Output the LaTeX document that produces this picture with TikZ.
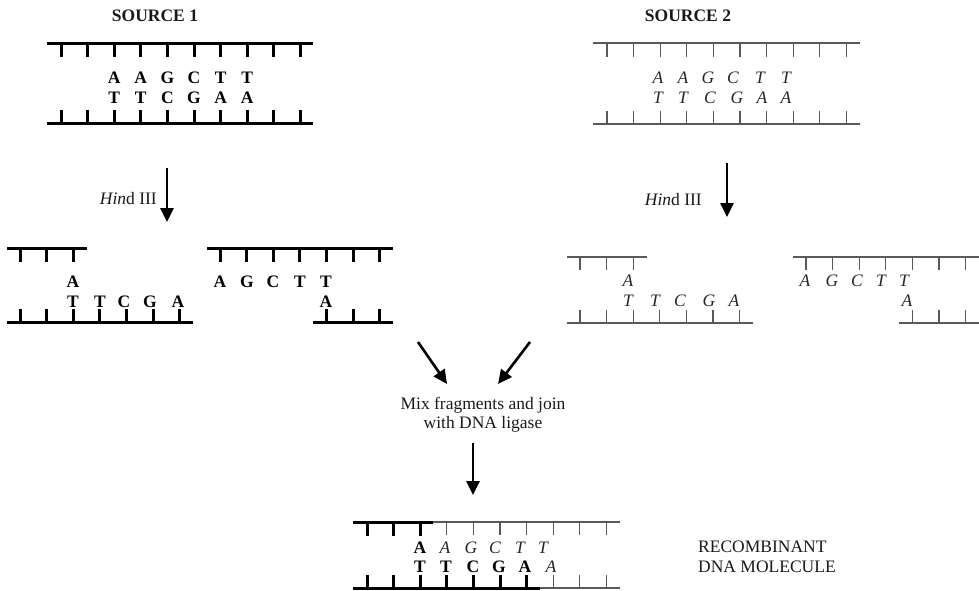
\documentclass[tikz,border=0pt]{standalone}
\usepackage{fontspec}
\setmainfont{Liberation Serif}
\usetikzlibrary{arrows.meta}

\begin{document}
\begin{tikzpicture}[x=1pt, y=-1pt, >={Triangle[length=14pt,width=13pt]},
    boldstrand/.style={line width=3pt, black},
    thinstrand/.style={line width=1.1pt, black!65},
    boldbase/.style={anchor=base, inner sep=0pt, font=\fontsize{17.5}{20}\selectfont\bfseries},
    itbase/.style={anchor=base, inner sep=0pt, text=black!85, font=\fontsize{17.5}{20}\selectfont\itshape},
    plaintext/.style={anchor=base, inner sep=0pt, text=black!90, font=\fontsize{17.5}{20}\selectfont},
    cutarrow/.style={->, line width=2.6pt, black}]
    \useasboundingbox (0,0) rectangle (979,590);

    % source 1
    \node[plaintext, font=\fontsize{17.5}{20}\selectfont\bfseries] (src1) at (155,21) {SOURCE 1};
    \draw[boldstrand] (47,43) -- (313,43);
    \draw[boldstrand] (47,123) -- (313,123);
    \foreach \i in {1,...,10} {
        \draw[boldstrand] (34.4+26.6*\i,43) -- ++(0,14);
        \draw[boldstrand] (34.4+26.6*\i,123) -- ++(0,-13);
    }
    \foreach \b [count=\i from 3] in {A,A,G,C,T,T}
        \node[boldbase] (s1a\i) at (34.4+26.6*\i,83) {\b};
    \foreach \b [count=\i from 3] in {T,T,C,G,A,A}
        \node[boldbase] (s1b\i) at (34.4+26.6*\i,103) {\b};

    % source 2
    \node[plaintext, font=\fontsize{17.5}{20}\selectfont\bfseries] (src2) at (688,21) {SOURCE 2};
    \draw[thinstrand] (593,43) -- (860,43);
    \draw[thinstrand] (593,124) -- (860,124);
    \foreach \i in {1,...,10} {
        \draw[thinstrand] (580.4+26.6*\i,43) -- ++(0,14);
        \draw[thinstrand] (580.4+26.6*\i,124) -- ++(0,-13);
    }
    \foreach \x/\b [count=\i] in {658/A,683/A,708/G,733/C,760/T,786/T}
        \node[itbase] (s2a\i) at (\x,83) {\b};
    \foreach \x/\b [count=\i] in {658/T,683/T,710/C,737/G,762/A,786/A}
        \node[itbase] (s2b\i) at (\x,103) {\b};

    % Hind III cuts
    \coordinate (h1top) at (167,168);
    \coordinate (h1tip) at (167,222);
    \draw[cutarrow] (h1top) -- (h1tip);
    \node[plaintext, anchor=base east] (enz1) at (157,204) {\textit{Hin}d III};
    \coordinate (h2top) at (727,163);
    \coordinate (h2tip) at (727,217);
    \draw[cutarrow] (h2top) -- (h2tip);
    \node[plaintext, anchor=base east] (enz2) at (702,205) {\textit{Hin}d III};

    % fragments of source 1
    \draw[boldstrand] (7,248) -- (87,248);
    \draw[boldstrand] (7,322) -- (193,322);
    \foreach \i in {1,...,3}
        \draw[boldstrand] (-6.6+26.6*\i,248) -- ++(0,14);
    \foreach \i in {1,...,7}
        \draw[boldstrand] (-6.6+26.6*\i,322) -- ++(0,-13);
    \node[boldbase] (f1a) at (73,287) {A};
    \foreach \x/\b [count=\i] in {73/T,100/T,124/C,150/G,178/A}
        \node[boldbase] (f1b\i) at (\x,307) {\b};
    \draw[boldstrand] (207,248) -- (393,248);
    \draw[boldstrand] (313,322) -- (393,322);
    \foreach \i in {1,...,7}
        \draw[boldstrand] (193.4+26.6*\i,248) -- ++(0,14);
    \foreach \i in {5,...,7}
        \draw[boldstrand] (193.4+26.6*\i,322) -- ++(0,-13);
    \foreach \x/\b [count=\i] in {220/A,247/G,273/C,300/T,326/T}
        \node[boldbase] (f2a\i) at (\x,287) {\b};
    \node[boldbase] (f2b) at (326,307) {A};

    % fragments of source 2
    \draw[thinstrand] (567,257) -- (647,257);
    \draw[thinstrand] (567,323) -- (753,323);
    \foreach \i in {1,...,3}
        \draw[thinstrand] (553.4+26.6*\i,257) -- ++(0,13);
    \foreach \i in {1,...,7}
        \draw[thinstrand] (553.4+26.6*\i,323) -- ++(0,-13);
    \node[itbase] (f3a) at (628,286) {A};
    \foreach \x/\b [count=\i] in {628/T,655/T,680/C,709/G,734/A}
        \node[itbase] (f3b\i) at (\x,306) {\b};
    \draw[thinstrand] (793,257) -- (979,257);
    \draw[thinstrand] (899,323) -- (979,323);
    \foreach \i in {1,...,7}
        \draw[thinstrand] (779.4+26.6*\i,257) -- ++(0,13);
    \foreach \i in {5,...,7}
        \draw[thinstrand] (779.4+26.6*\i,323) -- ++(0,-13);
    \foreach \x/\b [count=\i] in {805/A,832/G,857/C,881/T,904/T}
        \node[itbase] (f4a\i) at (\x,286) {\b};
    \node[itbase] (f4b) at (907,306) {A};

    % mixing and ligation
    \coordinate (m1top) at (418,342);
    \coordinate (m1tip) at (447,384);
    \coordinate (m2top) at (530,342);
    \coordinate (m2tip) at (498,384);
    \draw[cutarrow] (m1top) -- (m1tip);
    \draw[cutarrow] (m2top) -- (m2tip);
    \node[plaintext] (mix1) at (483,409) {Mix fragments and join};
    \node[plaintext] (mix2) at (483,428) {with DNA ligase};
    \coordinate (ltop) at (473,443);
    \coordinate (ltip) at (473,495);
    \draw[cutarrow] (ltop) -- (ltip);

    % recombinant molecule
    \draw[boldstrand] (353,522) -- (433,522);
    \draw[thinstrand] (433,522) -- (620,522);
    \draw[boldstrand] (353,588) -- (540,588);
    \draw[thinstrand] (540,588) -- (620,588);
    \foreach \i in {1,...,3}
        \draw[boldstrand] (340.4+26.6*\i,522) -- ++(0,14);
    \foreach \i in {4,...,10}
        \draw[thinstrand] (340.4+26.6*\i,522) -- ++(0,13);
    \foreach \i in {1,...,7}
        \draw[boldstrand] (340.4+26.6*\i,588) -- ++(0,-13);
    \foreach \i in {8,...,10}
        \draw[thinstrand] (340.4+26.6*\i,588) -- ++(0,-13);
    \node[boldbase] (r1a1) at (420,553) {A};
    \foreach \x/\b [count=\i from 2] in {445/A,471/G,495/C,520/T,543/T}
        \node[itbase] (r1a\i) at (\x,553) {\b};
    \foreach \x/\b [count=\i] in {420/T,446/T,473/C,499/G,525/A}
        \node[boldbase] (r1b\i) at (\x,572) {\b};
    \node[itbase] (r1b6) at (551,572) {A};
    \node[plaintext, anchor=base west] (rec1) at (698,552) {RECOMBINANT};
    \node[plaintext, anchor=base west] (rec2) at (698,572) {DNA MOLECULE};
\end{tikzpicture}
\end{document}
